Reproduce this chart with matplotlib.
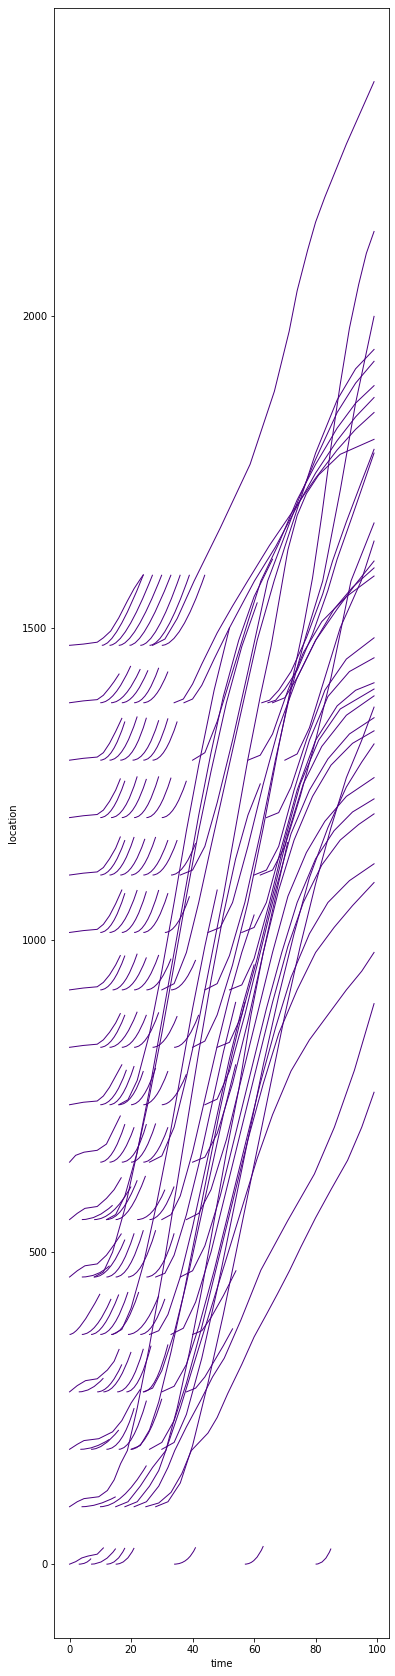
import matplotlib
matplotlib.use('Agg')
import matplotlib.pyplot as plt
from matplotlib.path import Path
from matplotlib.patches import PathPatch

LINE_COLOR = '#4b0082'
LINE_WIDTH = 1.0
DPI = 72

# entry points along the road (location of each on-ramp)
lanes = [0, 92, 184, 276, 368, 460, 552, 644, 736, 828, 920, 1012, 1104, 1196, 1288, 1380, 1472]

# short merges: lane index, start time, bend time, end time, end location
ramp_lane = [0, 0, 0, 0, 0, 0, 0,
             1, 1,
             2, 2, 2, 2, 2,
             3, 3, 3, 3, 3, 3,
             4, 4, 4, 4, 4, 4, 4,
             5, 5, 5, 5, 5, 5,
             6, 6, 6, 6, 6, 6,
             7, 7, 7, 7, 7,
             8, 8, 8, 8, 8, 8,
             9, 9, 9, 9, 9, 9,
             10, 10, 10, 10, 10, 10,
             11, 11, 11, 11, 11, 11,
             12, 12, 12, 12, 12, 12, 12,
             13, 13, 13, 13, 13, 13,
             14, 14, 14, 14, 14, 14,
             15, 15, 15, 15, 15,
             16, 16, 16, 16, 16, 16, 16]
ramp_t0 = [3, 7, 12, 15, 34, 57, 80,
           3.9, 9.9,
           3.5, 7, 12, 16, 20,
           3, 9, 11, 15.5, 18.5, 24,
           0, 4, 7, 10, 13.5, 19, 23,
           4, 8, 12, 15, 19, 25,
           4, 8, 12, 15, 22, 26,
           10, 13, 17, 20, 24,
           10, 13, 16, 20, 24, 30,
           10, 13, 17, 21, 27, 34,
           10, 14, 17, 21, 25, 33,
           10, 13, 17, 21, 24, 31,
           10, 13, 16.5, 20, 24, 27, 33,
           10, 13.5, 17, 21, 25, 30,
           10, 13, 16.5, 20.5, 24, 27,
           10, 13.5, 17, 21, 24,
           10.5, 13, 16, 19.5, 23, 26, 30]
ramp_tc = [5.5, 11.5, 15.5, 18.5, 38.5, 60.5, 83,
           9, 17,
           8, 11, 17, 20.5, 25,
           7, 13, 15.5, 20, 22.5, 28,
           3, 8.5, 11, 14.5, 18, 24, 27,
           9, 13, 16.5, 19.5, 23.5, 30,
           9, 14, 17, 19.5, 27, 30,
           14, 17, 21.5, 24, 28,
           14.5, 17, 20.5, 24, 28, 34,
           14, 17.5, 21, 25, 31, 38,
           14, 18, 21, 25, 29, 37,
           14, 17.5, 21, 25, 28, 35,
           14, 17, 20.5, 24, 28, 31, 37,
           14, 18, 21, 25, 29, 34,
           14, 17.5, 21, 25, 28, 31,
           14.5, 18, 21, 25, 28,
           15, 18, 21, 24, 28, 31, 36]
ramp_t1 = [7, 15, 18, 21, 41, 63, 85,
           15, 25,
           13, 16, 21, 25, 30,
           11, 17, 20, 24, 26.5, 32,
           9.9, 13.5, 16, 19, 22.5, 29, 31,
           13, 18, 21, 24, 28, 34,
           14, 20, 22, 24.7, 31, 34,
           18, 21, 25, 28, 32,
           18.5, 21, 24, 28, 32, 38,
           18, 22, 25, 29, 35, 42,
           18, 22, 25, 29, 33, 41,
           18, 22, 25, 29, 32, 39,
           18, 21, 24.5, 28, 32, 35, 41,
           18, 22, 25, 29, 33, 38,
           18, 22, 25, 29, 32, 35,
           19.9, 23, 25.5, 29, 32,
           24, 27, 30, 33, 36, 39, 44]
ramp_y1 = [9, 25, 26, 26, 27, 29, 25,
           108, 158,
           200, 215, 250, 262, 265,
           298, 320, 340, 345, 350, 352,
           433, 425, 432, 436, 436, 430, 425,
           478, 520, 530, 535, 535, 530,
           575, 605, 615, 622, 600, 605,
           705, 700, 705, 706, 700,
           792, 798, 790, 795, 790, 785,
           880, 885, 880, 884, 878, 880,
           975, 978, 972, 976, 970, 968,
           1075, 1080, 1078, 1080, 1075, 1070,
           1160, 1165, 1162, 1165, 1160, 1160, 1155,
           1255, 1262, 1258, 1262, 1260, 1255,
           1350, 1358, 1356, 1352, 1355, 1350,
           1439, 1434, 1432, 1436, 1430,
           1585, 1585, 1585, 1585, 1585, 1585, 1585]

# first vehicle of each entry point, creeping off the line at time 0
leaders = [
    [(0, 0), (2, 4), (4, 10), (6, 13), (9, 16), (11, 26)],
    [(0, 92), (2.5, 100), (4.7, 105), (9.5, 108), (12.3, 118), (14.5, 135), (16.6, 161), (18.8, 182),
     (22, 250), (26, 350), (30, 460), (34, 580), (38, 700), (42, 820), (46, 935), (50, 1040), (54, 1130),
     (58, 1200), (62, 1250)],
    [(0, 184), (2.5, 192), (4.7, 198), (9.5, 201), (14, 212), (17, 230), (20, 258), (23, 280)],
    [(0, 276), (2.5, 286), (5.2, 294), (9, 297), (12.3, 311), (14.5, 325), (16.1, 344)],
    [(0, 460), (2.5, 470), (5, 478), (9, 481), (12, 495), (14.5, 512), (16.8, 529)],
    [(0, 552), (2.5, 562), (5, 570), (9, 573), (12, 586), (14.5, 600), (16.8, 619)],
    [(0, 644), (2, 655), (4.7, 660), (9, 663), (12, 673), (15, 703), (16.5, 718)],
    [(0, 736), (4.5, 740), (9, 742), (11, 750), (13, 764), (15, 782), (17, 800)],
    [(0, 828), (4.5, 831), (9, 833), (11, 840), (13, 852), (15, 867), (16.5, 882)],
    [(0, 920), (4.5, 923), (9, 925), (11, 932), (13, 944), (15, 960), (16.5, 975)],
    [(0, 1012), (4.5, 1015), (9, 1017), (11, 1025), (13, 1039), (15, 1058), (17, 1080)],
    [(0, 1104), (4.5, 1107), (9, 1109), (11, 1116), (13, 1130), (15, 1147), (16.5, 1165)],
    [(0, 1196), (4.5, 1199), (9, 1201), (11, 1208), (13, 1222), (15, 1240), (16.5, 1258)],
    [(0, 1288), (4.5, 1291), (9, 1293), (11, 1300), (13, 1315), (15, 1334), (17, 1355)],
    [(0, 1380), (4.5, 1383), (9, 1385), (11, 1392), (13, 1404), (14.5, 1414), (16.1, 1426)],
    [(0, 1472), (4.5, 1474), (9, 1477), (11, 1484), (13.4, 1495), (16, 1516), (18.8, 1543), (21, 1563),
     (23, 1578), (24, 1585)],
]

# vehicles that stay on the road and run to the end of the record
long_runs = [
    [(27, 1472), (31, 1482), (35, 1515), (40.5, 1575), (49, 1660), (58.7, 1762), (66.6, 1879), (71.4, 1975),
     (74, 2040), (77.4, 2105), (80, 2150), (83, 2190), (90, 2275), (99, 2375)],
    [(40, 828), (44, 838), (48, 880), (53, 960), (58, 1060), (63, 1180), (68, 1310), (73, 1430), (76, 1500),
     (79, 1580), (82, 1680), (85, 1790), (88, 1890), (91, 1980), (94, 2050), (96.5, 2100), (99, 2135)],
    [(44, 920), (48, 930), (52, 975), (57, 1060), (62, 1170), (67, 1290), (72, 1400), (77, 1490), (82.3, 1575),
     (88, 1720), (93, 1860), (99, 1999)],
    [(30, 920), (34, 930), (38, 980), (42, 1060), (46, 1150), (51, 1260), (56, 1370), (61, 1480), (66.5, 1575),
     (70, 1630), (74, 1690), (80, 1780), (87, 1865), (93, 1915), (99, 1946)],
    [(36, 1104), (40, 1112), (44, 1150), (48, 1220), (53, 1320), (58, 1430), (64.4, 1575), (69, 1635),
     (74, 1700), (80, 1770), (87, 1845), (93, 1892), (99, 1927)],
    [(40, 1288), (44, 1300), (48, 1350), (53, 1430), (58, 1510), (62.2, 1575), (68, 1635), (74, 1705),
     (80, 1762), (87, 1820), (93, 1860), (99, 1888)],
    [(37.2, 1380), (40, 1386), (43, 1408), (47, 1450), (52, 1500), (60.1, 1575), (67, 1630), (74, 1695),
     (80, 1748), (87, 1800), (93, 1838), (99, 1869)],
    [(34, 1380), (37, 1386), (40, 1410), (43, 1442), (48, 1492), (53, 1535), (57.9, 1575), (65, 1632),
     (73, 1690), (80, 1740), (87, 1785), (93, 1818), (99, 1845)],
    [(26, 644), (30, 654), (34, 700), (38, 780), (42, 870), (46, 970), (50, 1070), (54, 1180), (58, 1290),
     (62, 1390), (65.5, 1470), (68.7, 1560), (71, 1625), (74, 1680), (77, 1715), (81, 1745), (88, 1778),
     (99, 1802)],
    [(62.5, 1380), (65, 1384), (68, 1400), (72, 1430), (77, 1484), (82.3, 1554), (85.5, 1607), (90, 1670),
     (95, 1735), (99, 1786)],
    [(64.5, 1380), (67, 1384), (70, 1402), (74, 1432), (79, 1490), (84, 1560), (87, 1610), (92, 1680),
     (99, 1780)],
    [(62, 1104), (66, 1112), (70, 1150), (75, 1230), (80, 1320), (85, 1420), (91.5, 1575), (99, 1668)],
    [(70, 1288), (74, 1298), (78, 1340), (83, 1420), (88, 1500), (94.8, 1575), (99, 1639)],
    [(45, 1012), (49, 1020), (53, 1060), (58, 1150), (63, 1250), (68, 1340), (74, 1420), (80, 1480), (87, 1530),
     (93, 1570), (99, 1607)],
    [(66, 1380), (70, 1388), (74, 1420), (80, 1480), (86, 1530), (92, 1565), (99, 1596)],
    [(58, 1288), (62, 1296), (66, 1330), (71, 1400), (76, 1460), (82, 1510), (90, 1550), (99, 1583)],
    [(64, 1196), (68, 1204), (72, 1245), (77, 1320), (83, 1400), (90, 1450), (99, 1484)],
    [(60, 1104), (64, 1112), (68, 1150), (73, 1240), (78, 1320), (84, 1390), (91, 1430), (99, 1452)],
    [(56, 1012), (60, 1020), (64, 1060), (69, 1150), (74, 1240), (80, 1320), (87, 1375), (93, 1400), (99, 1412)],
    [(52, 920), (56, 928), (60, 970), (65, 1060), (70, 1160), (75, 1250), (81, 1320), (88, 1370), (99, 1402)],
    [(48, 828), (52, 836), (56, 880), (61, 970), (66, 1070), (71, 1170), (76, 1250), (82, 1310), (90, 1360),
     (99, 1391)],
    [(28, 92), (32, 100), (36, 130), (40, 190), (45, 290), (50, 400), (55, 520), (60, 640), (65, 760), (70, 880),
     (75, 990), (80, 1090), (85, 1180), (90, 1260), (95, 1320), (99, 1373)],
    [(44, 736), (48, 745), (52, 790), (57, 880), (62, 980), (67, 1080), (72, 1170), (78, 1240), (84, 1290),
     (91, 1330), (99, 1356)],
    [(40, 644), (44, 652), (48, 690), (53, 770), (58, 870), (63, 980), (68, 1080), (73, 1160), (79, 1230),
     (85, 1280), (92, 1315), (99, 1335)],
    [(30, 184), (34, 195), (38, 240), (43, 330), (48, 440), (53, 560), (58, 680), (63, 800), (68, 910),
     (73, 1010), (78, 1100), (84, 1180), (90, 1245), (95, 1285), (99, 1314)],
    [(38, 552), (42, 562), (46, 600), (51, 680), (56, 780), (61, 880), (66, 980), (71, 1070), (77, 1140),
     (83, 1190), (90, 1230), (99, 1260)],
    [(36, 460), (40, 470), (44, 510), (49, 590), (54, 690), (59, 790), (64, 890), (69, 980), (74, 1060),
     (80, 1130), (86, 1175), (92, 1205), (99, 1226)],
    [(33, 368), (37, 378), (41, 420), (46, 500), (51, 600), (56, 700), (61, 800), (66, 900), (71, 990),
     (76, 1060), (82, 1120), (88, 1160), (94, 1185), (99, 1202)],
    [(30, 276), (34, 285), (38, 320), (42, 380), (47, 470), (52, 570), (57, 670), (62, 770), (67, 860),
     (72, 940), (78, 1010), (84, 1060), (91, 1095), (99, 1122)],
    [(26, 184), (30, 195), (34, 230), (38, 290), (43, 380), (48, 480), (53, 580), (58, 680), (63, 770),
     (68, 850), (74, 920), (80, 980), (86, 1020), (92, 1055), (99, 1092)],
    [(18, 92), (22, 100), (26, 125), (29, 150), (31.3, 182), (36, 250), (41, 330), (46, 410), (51, 490),
     (56, 570), (61, 650), (66, 720), (72, 790), (78, 840), (84, 880), (90, 920), (95, 950), (99, 980)],
    [(21, 92), (25, 100), (29, 125), (32, 155), (34.2, 182), (38, 220), (42.7, 263), (46.5, 300), (50.3, 330),
     (55.7, 391), (62.2, 471), (70.9, 550), (79.6, 625), (86.1, 700), (92.6, 791), (99, 898)],
    [(24.8, 92), (29, 98), (33, 115), (36.5, 145), (39.6, 182), (45, 210), (48, 235), (51.4, 273), (56, 320),
     (60, 364), (64, 400), (67.6, 433), (71.5, 470), (75.2, 508), (80, 555), (85, 600), (90.4, 647),
     (95, 700), (99, 756)],
]

# vehicles that leave the road part way through
mid_runs = [
    [(15, 92), (19, 100), (23, 125), (27, 155), (31.3, 182), (35, 250), (39, 340), (43, 440), (47, 550),
     (51, 660), (55, 760), (59, 880), (63, 980), (67, 1070), (70.9, 1156)],
    [(20, 184), (23, 190), (26, 215), (29, 260), (33, 340), (37, 430), (41, 530), (45, 630), (49, 730),
     (53, 820), (57, 900)],
    [(24, 276), (27, 282), (30, 310), (34, 370), (38, 450), (42, 540), (46, 630), (50, 720), (54, 800)],
    [(26, 368), (29, 374), (32, 400), (36, 460), (40, 540), (44, 630), (48, 720), (52, 810), (56, 890),
     (60, 960)],
    [(28, 460), (31, 466), (34, 495), (38, 560), (42, 640), (46, 730), (50, 820), (54, 900)],
    [(30, 552), (33, 560), (36, 590), (40, 660), (44, 745), (48, 830), (52, 910), (56, 980), (60, 1040)],
    [(38, 276), (41, 282), (44, 300), (47, 325), (50, 350), (53, 377)],
    [(40, 368), (43, 374), (46, 395), (50, 430), (54.1, 470)],
    [(14, 368), (17, 376), (20, 410), (24, 480), (28, 570), (32, 670), (36, 780), (40, 890), (44, 990),
     (48, 1080)],
    [(8, 460), (11, 468), (14, 500), (18, 570), (22, 660), (26, 760), (30, 870), (34, 980), (38, 1090),
     (42, 1200), (46, 1300), (50, 1390), (55, 1480), (60, 1550), (66, 1610)],
    [(12, 552), (15, 560), (18, 590), (22, 660), (26, 750), (30, 850), (34, 960), (38, 1070), (42, 1175),
     (46, 1270), (51, 1380), (56, 1470), (61, 1540)],
    [(16, 736), (19, 744), (22, 775), (26, 850), (30, 950), (34, 1060), (38, 1175), (42, 1280), (47, 1400),
     (52, 1500)],
]


def draw_ramp(ax, lane, t0, tc, t1, y1):
    y0 = lanes[lane]
    path = Path([(t0, y0), (tc, y0), (t1, y1)], [Path.MOVETO, Path.CURVE3, Path.CURVE3])
    ax.add_patch(PathPatch(path, fill=False, edgecolor=LINE_COLOR, lw=LINE_WIDTH))


fig = plt.figure(figsize=(395 / DPI, 1676 / DPI), dpi=DPI)
ax = fig.add_axes([0.1375, 0.0225, 0.848, 0.973])

for run in leaders + long_runs + mid_runs:
    ts = [p[0] for p in run]
    ys = [p[1] for p in run]
    ax.plot(ts, ys, color=LINE_COLOR, lw=LINE_WIDTH)

for i in range(len(ramp_lane)):
    draw_ramp(ax, ramp_lane[i], ramp_t0[i], ramp_tc[i], ramp_t1[i], ramp_y1[i])

ax.set_xlim(-4.95, 103.95)
ax.set_ylim(-118.75, 2493.75)
ax.set_xticks([0, 20, 40, 60, 80, 100])
ax.set_yticks([0, 500, 1000, 1500, 2000])
ax.set_xlabel('time')
ax.set_ylabel('location')

fig.savefig('out.png', dpi=DPI)
